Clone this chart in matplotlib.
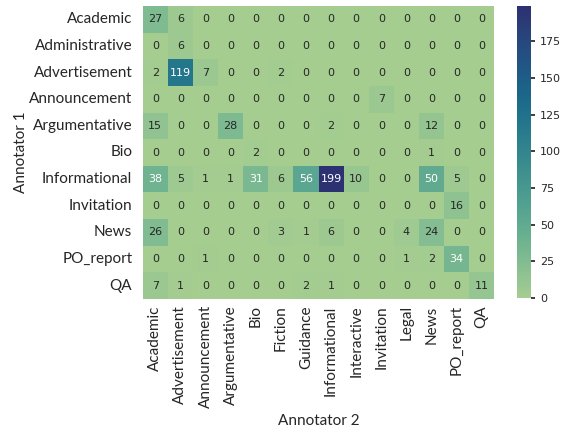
import numpy as np
import matplotlib
matplotlib.use("Agg")
import matplotlib.pyplot as plt
import seaborn as sns

rows = ["Academic", "Administrative", "Advertisement", "Announcement", "Argumentative",
        "Bio", "Informational", "Invitation", "News", "PO_report", "QA"]
cols = ["Academic", "Advertisement", "Announcement", "Argumentative", "Bio", "Fiction",
        "Guidance", "Informational", "Interactive", "Invitation", "Legal", "News",
        "PO_report", "QA"]

academic      = [27, 6, 0, 0, 0, 0, 0, 0, 0, 0, 0, 0, 0, 0]
administrative = [0, 6, 0, 0, 0, 0, 0, 0, 0, 0, 0, 0, 0, 0]
advertisement = [2, 119, 7, 0, 0, 2, 0, 0, 0, 0, 0, 0, 0, 0]
announcement  = [0, 0, 0, 0, 0, 0, 0, 0, 0, 7, 0, 0, 0, 0]
argumentative = [15, 0, 0, 28, 0, 0, 0, 2, 0, 0, 0, 12, 0, 0]
bio           = [0, 0, 0, 0, 2, 0, 0, 0, 0, 0, 0, 1, 0, 0]
informational = [38, 5, 1, 1, 31, 6, 56, 199, 10, 0, 0, 50, 5, 0]
invitation    = [0, 0, 0, 0, 0, 0, 0, 0, 0, 0, 0, 0, 16, 0]
news          = [26, 0, 0, 0, 0, 3, 1, 6, 0, 0, 4, 24, 0, 0]
po_report     = [0, 0, 1, 0, 0, 0, 0, 0, 0, 0, 1, 2, 34, 0]
qa            = [7, 1, 0, 0, 0, 0, 2, 1, 0, 0, 0, 0, 0, 11]

matrix = np.array([academic, administrative, advertisement, announcement, argumentative,
                   bio, informational, invitation, news, po_report, qa])

sns.set_theme(style="white")
plt.rcParams["font.family"] = ["Lato", "DejaVu Sans"]

W, H = 561, 432
fig = plt.figure(figsize=(W / 100, H / 100), dpi=100)
top, bottom = 6, 299
ax = fig.add_axes([142.7 / W, 1 - bottom / H, (494.3 - 142.7) / W, (bottom - top) / H])
cax = fig.add_axes([517 / W, 1 - 298 / H, 14 / W, (298 - top) / H])

sns.heatmap(matrix, ax=ax, cbar_ax=cax, cmap="crest", annot=True, fmt="d",
            annot_kws={"fontsize": 8, "family": "DejaVu Sans"},
            xticklabels=cols, yticklabels=rows)

ax.tick_params(axis="both", labelsize=11, length=0)
ax.tick_params(axis="y", pad=7.5)
ax.tick_params(axis="x", pad=4.5)
ax.set_xticklabels(cols, rotation=90)
ax.set_yticklabels(rows, rotation=0)
ax.set_xlabel("Annotator 2", fontsize=11, labelpad=4)
ax.set_ylabel("Annotator 1", fontsize=11, labelpad=1)

cax.tick_params(labelsize=8, length=3)
for t in cax.get_yticklabels():
    t.set_family("DejaVu Sans")

fig.savefig("out.png", dpi=100)
